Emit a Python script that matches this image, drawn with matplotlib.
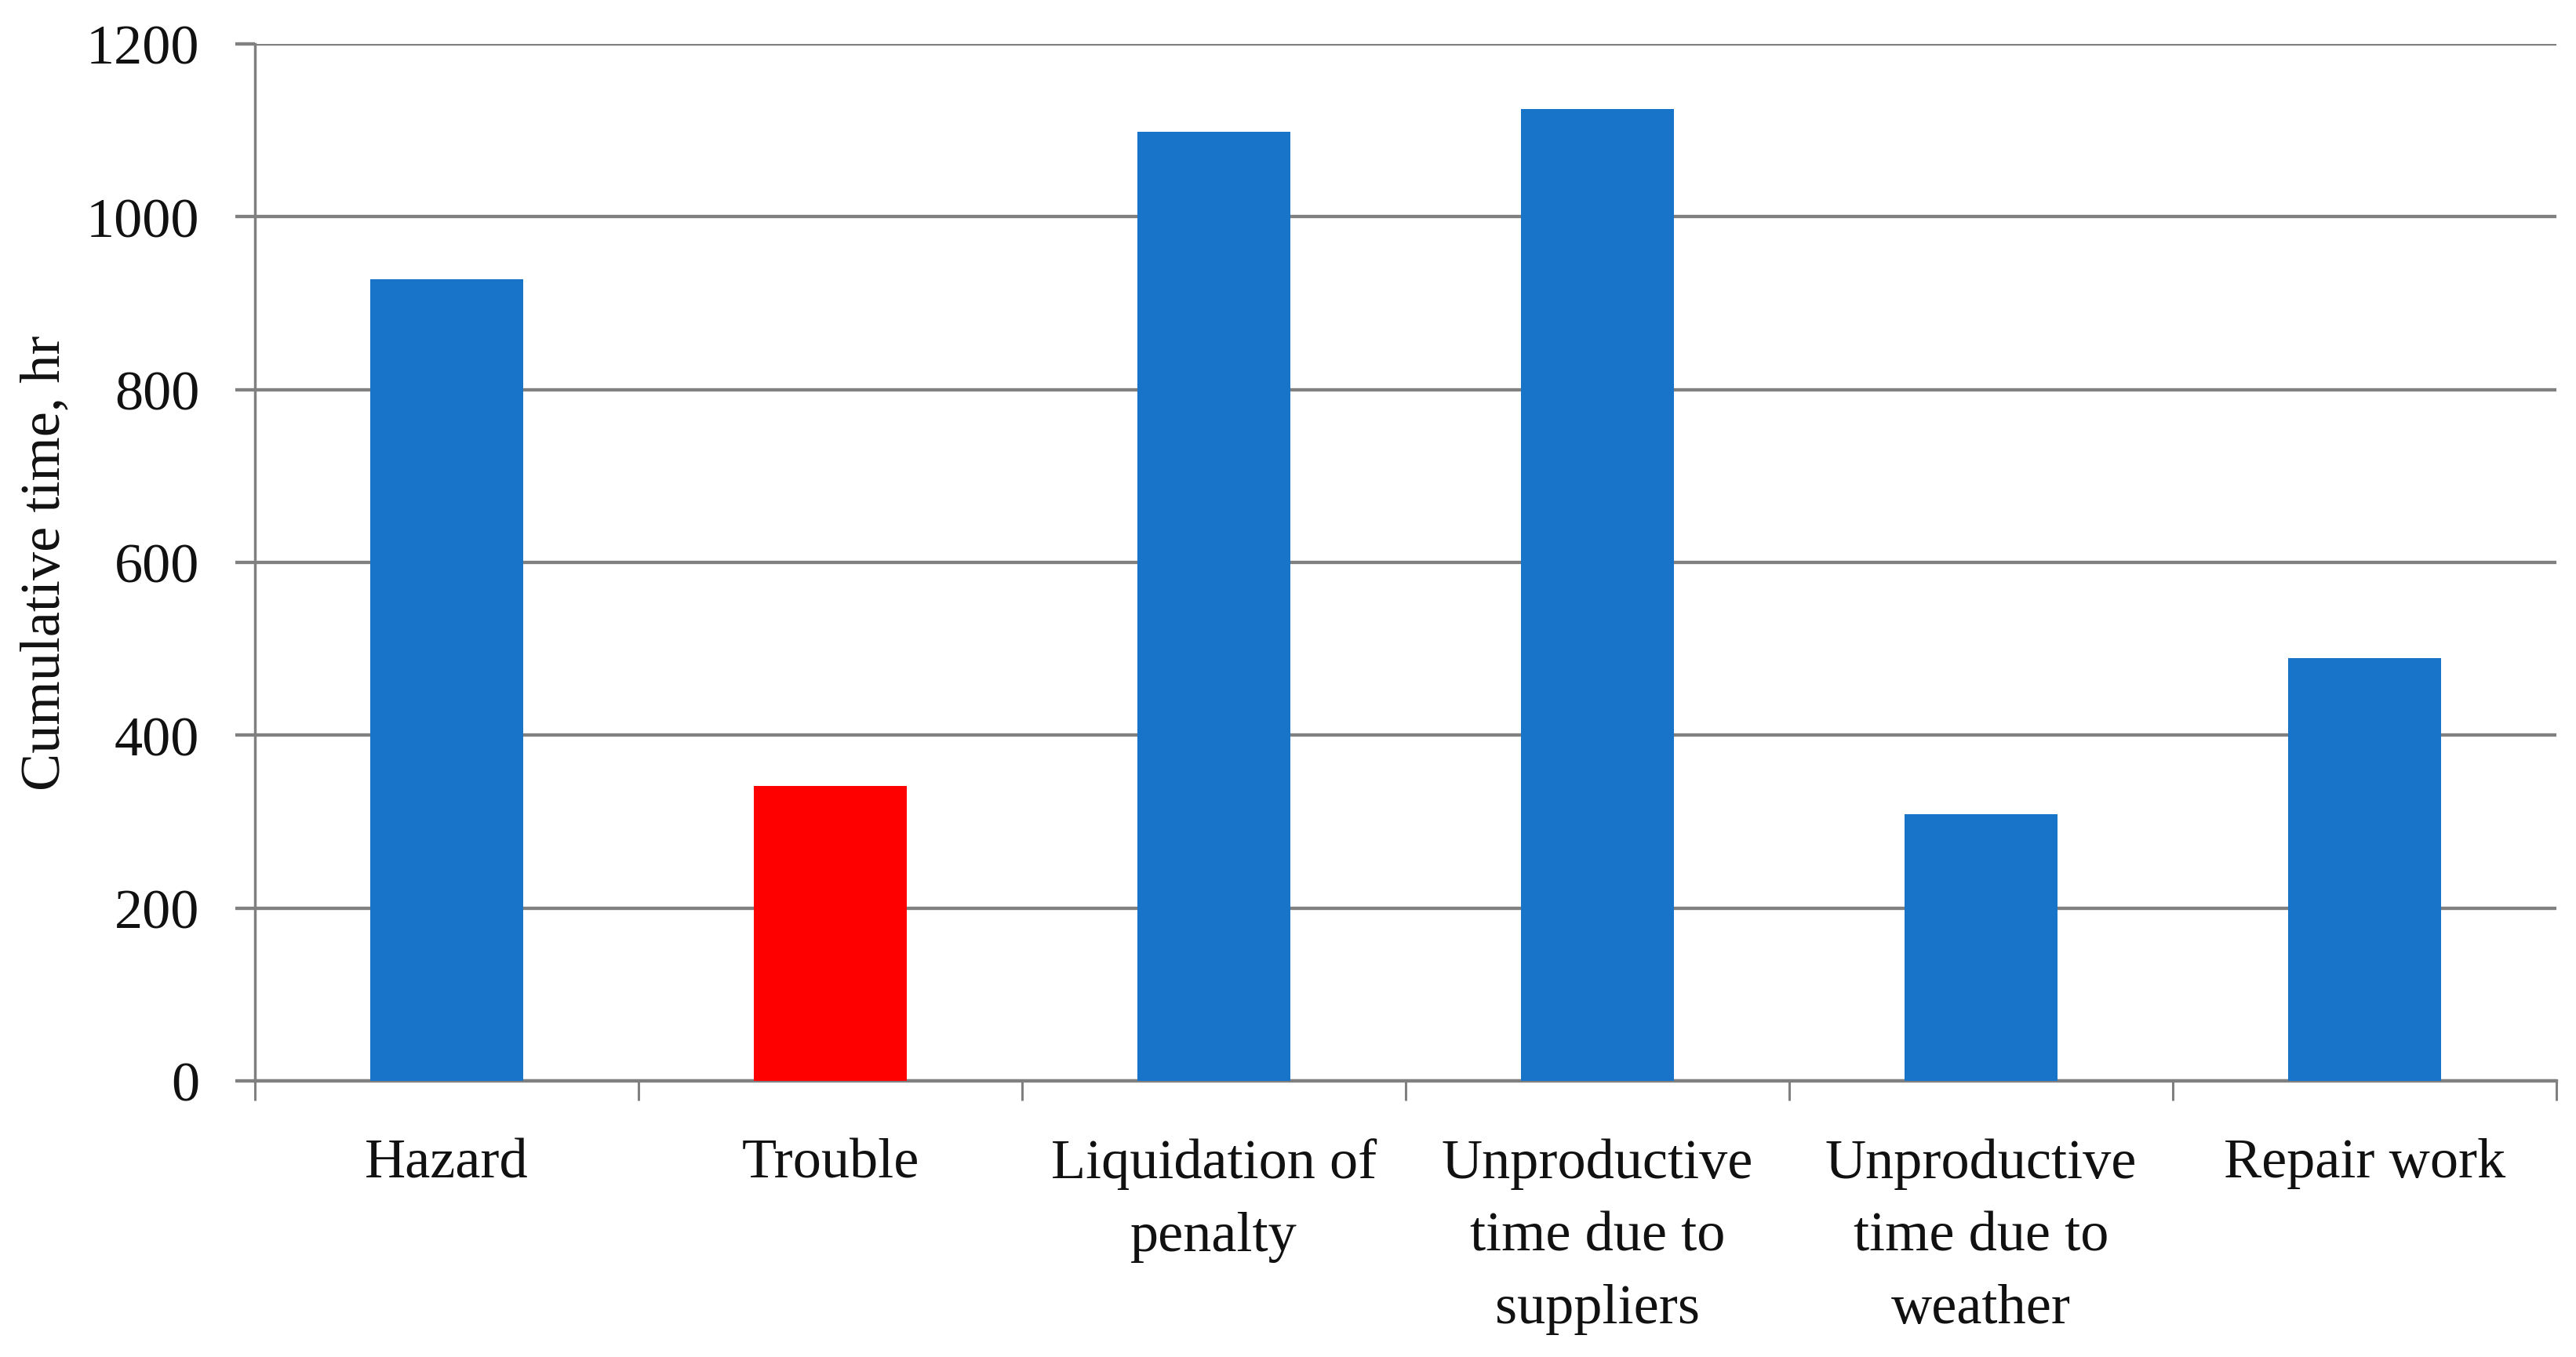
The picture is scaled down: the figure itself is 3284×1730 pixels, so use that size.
import matplotlib
matplotlib.use("Agg")
import matplotlib.pyplot as plt
import numpy as np

categories = ["Hazard", "Trouble", "Liquidation of\npenalty",
              "Unproductive\ntime due to\nsuppliers",
              "Unproductive\ntime due to\nweather", "Repair work"]
values = [928, 341, 1098, 1125, 309, 489]
bar_colors = ["#1874C8", "#FF0000", "#1874C8", "#1874C8", "#1874C8", "#1874C8"]
yticks = [0, 200, 400, 600, 800, 1000, 1200]
ylabel = "Cumulative time, hr"

plt.rcParams['font.family'] = ['Liberation Serif', 'DejaVu Serif']

fig = plt.figure(figsize=(32.84, 17.31), dpi=100)
ax = fig.add_axes([325/3284, 1 - 1379/1731, (3259-325)/3284, (1379-57)/1731])

x = np.arange(len(categories))
ax.bar(x, values, width=0.4, color=bar_colors, zorder=3)

ax.set_xlim(-0.5, len(categories) - 0.5)
ax.set_ylim(0, 1200)
ax.set_yticks(yticks)
ax.set_yticklabels([str(t) for t in yticks])
ax.yaxis.grid(True, color="#808080", linewidth=3.1, zorder=1)
ax.set_axisbelow(True)

ax.set_xticks(x)
ax.set_xticklabels(categories, linespacing=1.55)
ax.set_xticks(np.arange(-0.5, len(categories)), minor=True)
ax.tick_params(axis='x', which='major', length=0, pad=52, labelsize=52, labelcolor="#111111")
ax.tick_params(axis='x', which='minor', length=18, width=2.2, color="#808080", direction='out')
ax.tick_params(axis='y', which='major', length=18, width=3.1, color="#808080", direction='out',
               pad=33, labelsize=52, labelcolor="#111111")

for s in ['top', 'right']:
    ax.spines[s].set_visible(False)
for s in ['left', 'bottom']:
    ax.spines[s].set_color("#808080")
ax.spines['left'].set_linewidth(2.5)
ax.spines['bottom'].set_linewidth(3.1)

ax.set_ylabel(ylabel, fontsize=52, color="#111111", labelpad=14)

fig.savefig("out.png", dpi=100)
